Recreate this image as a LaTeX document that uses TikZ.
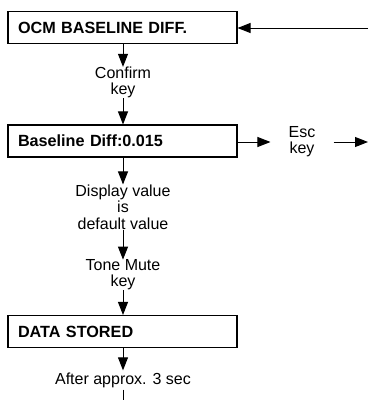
\documentclass[tikz,border=0pt]{standalone}
\usepackage{fontspec}
\setmainfont{Liberation Sans}
\usetikzlibrary{arrows.meta}
\begin{document}
\begin{tikzpicture}[x=1pt,y=-1pt,
  stepbox/.style={draw, line width=1.1pt, minimum height=32pt, text width=209pt, inner xsep=10pt, align=left, font=\fontsize{16.2}{16}\selectfont\bfseries},
  lbl/.style={align=center, inner sep=0pt, font=\fontsize{16}{16}\selectfont},
  arr/.style={line width=1pt, -{Triangle[length=13pt,width=10pt]}},
  ln/.style={line width=1pt}]
\useasboundingbox (0,0) rectangle (368,400);
\node[stepbox] (b1) at (122.5,27.5) {OCM BASELINE DIFF.};
\node[stepbox] (b2) at (122.5,141) {Baseline Diff:0.015};
\node[stepbox] (b3) at (122.5,331.5) {DATA STORED};
\node[lbl] (confirm) at (123,82.5) {Confirm\\key};
\node[lbl, font=\fontsize{16}{16.5}\selectfont] (display) at (123,207) {Display value\\is\\default value};
\node[lbl] (tone) at (123,275) {Tone Mute\\key};
\node[lbl, inner xsep=18pt] (esc) at (302,142) {Esc\\key};
\node[lbl, inner ysep=2pt] (after) at (123,380) {After approx. 3 sec};
\coordinate (topin) at (368,28);
\coordinate (escout) at (368,142);
\coordinate (bottom) at (123,400);
\draw[arr] (topin) -- (b1.east |- topin);
\draw[arr] (b1.south -| confirm) -- (confirm.north);
\draw[arr] (confirm.south) -- (b2.north -| confirm);
\draw[arr] (b2.south -| display) -- (display.north);
\draw[arr] (display.south) -- (tone.north);
\draw[arr] (tone.south) -- (b3.north -| tone);
\draw[arr] (b3.south -| after) -- (after.north);
\draw[ln] (after.south) -- (bottom);
\draw[arr] (b2.east |- esc) -- (esc.west);
\draw[arr] (esc.east) -- (escout);
\end{tikzpicture}
\end{document}
